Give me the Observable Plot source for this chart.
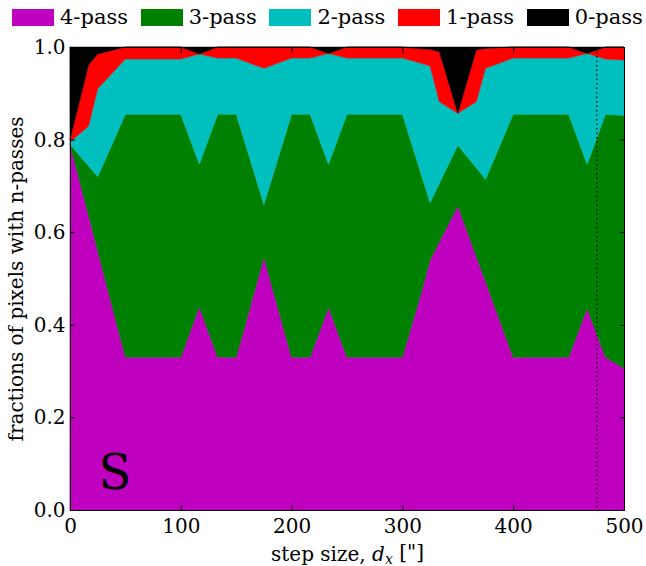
<!DOCTYPE html>
<html><head><meta charset="utf-8">
<script src="https://cdn.jsdelivr.net/npm/d3@7"></script>
<script src="https://cdn.jsdelivr.net/npm/@observablehq/plot@0.6"></script>
<style>
body{margin:0;background:#fff;font-family:"DejaVu Serif",serif;}
#legend{position:relative;height:34px;width:646px;}
.item{position:absolute;top:0;height:34px;display:flex;align-items:center;font-size:21px;line-height:1;color:#000;}
.sw{width:42px;height:17px;margin-right:6px;}
svg{display:block;}
</style></head><body>
<div id="legend"></div><div id="chart"></div>
<script>
const series = ["4-pass","3-pass","2-pass","1-pass","0-pass"];
const colors = ["#bf00bf","#008000","#00bfbf","#ff0000","#000000"];
const stepSize = [0,16.7,25,50,100,116.7,133.3,150,175,200,216.7,233.3,250,300,316.7,325,333.3,350,366.7,375,400,450,466.7,483.3,500];
const pass4 = [0.79,0.637,0.56,0.33,0.33,0.439,0.33,0.33,0.546,0.33,0.33,0.438,0.33,0.33,0.467,0.54,0.579,0.657,0.548,0.494,0.33,0.33,0.436,0.33,0.306];
const pass3 = [0,0.106,0.16,0.525,0.525,0.308,0.525,0.525,0.114,0.525,0.525,0.309,0.525,0.525,0.26,0.124,0.126,0.131,0.191,0.22,0.525,0.525,0.311,0.525,0.546];
const pass2 = [0.005,0.086,0.19,0.119,0.119,0.238,0.121,0.121,0.294,0.121,0.121,0.239,0.121,0.121,0.238,0.295,0.177,0.069,0.143,0.24,0.121,0.121,0.239,0.119,0.12];
const pass1 = [0.005,0.132,0.075,0.026,0.026,0,0.024,0.024,0.046,0.024,0.024,0,0.024,0.024,0.031,0.036,0.108,0,0.112,0.043,0.024,0.024,0,0.026,0.028];
const pass0 = [0.2,0.039,0.015,0,0,0.015,0,0,0,0,0,0.014,0,0,0.004,0.005,0.01,0.143,0.006,0.003,0,0,0.014,0,0];
const xTicks = [0,100,200,300,400,500];
const yTicks = [0,0.2,0.4,0.6,0.8,1.0];
const markerX = [475];
const panelLabel = ["S"];
const yLabel = "fractions of pixels with n-passes";

const values = [pass4, pass3, pass2, pass1, pass0];
const rows = [];
series.forEach((s, k) => stepSize.forEach((x, i) => rows.push({x, value: values[k][i], series: s})));

// legend
const leg = document.getElementById("legend");
series.forEach((s, i) => {
  const it = document.createElement("div");
  it.className = "item";
  it.style.left = (12 + i * 128.7) + "px";
  const sw = document.createElement("div");
  sw.className = "sw"; sw.style.background = colors[i];
  const t = document.createElement("span"); t.textContent = s;
  it.appendChild(sw); it.appendChild(t); leg.appendChild(it);
});

const blank = () => "";
const svg = Plot.plot({
  width: 646, height: 532,
  marginTop: 13, marginBottom: 56, marginLeft: 70, marginRight: 22,
  style: {fontFamily: "DejaVu Serif", fontSize: "20px", background: "white", color: "black"},
  x: {domain: [0, 500]},
  y: {domain: [0, 1]},
  color: {domain: series, range: colors},
  marks: [
    Plot.areaY(rows, {x: "x", y: "value", fill: "series", stroke: "series", strokeWidth: 0.5, order: series}),
    Plot.ruleX(markerX, {stroke: "black", strokeDasharray: "1.5,3", strokeWidth: 1.2}),
    Plot.text(panelLabel, {text: d => d, frameAnchor: "bottom-left", textAnchor: "start", lineAnchor: "bottom", dx: 28, dy: -22, fontSize: 48, fontFamily: "DejaVu Serif", fill: "black"}),
    Plot.frame({stroke: "black", strokeWidth: 1}),
    Plot.axisX(xTicks, {anchor: "bottom", tickSize: 0, tickPadding: 8, fontSize: 20, label: "step size, dx [\"]", labelAnchor: "center", labelOffset: 50, labelArrow: "none"}),
    Plot.axisX(xTicks, {anchor: "bottom", tickSize: 5, dy: -5, tickFormat: blank, label: null}),
    Plot.axisX(xTicks, {anchor: "top", tickSize: 5, dy: 5, tickFormat: blank, label: null}),
    Plot.axisY(yTicks, {anchor: "left", tickSize: 0, tickPadding: 5, tickFormat: d3.format(".1f"), fontSize: 20, label: yLabel, labelAnchor: "center", labelOffset: 62, labelArrow: "none"}),
    Plot.axisY(yTicks, {anchor: "left", tickSize: 5, dx: 5, tickFormat: blank, label: null}),
    Plot.axisY(yTicks, {anchor: "right", tickSize: 5, dx: -5, tickFormat: blank, label: null})
  ]
});
document.getElementById("chart").appendChild(svg);

// y label without arrow
d3.select(svg).select('g[aria-label="y-axis label"] text').text(yLabel);
// italic d with subscript x in the x-axis label
const lab = d3.select(svg).select('g[aria-label="x-axis label"] text');
if (!lab.empty()) {
  lab.text(null);
  lab.append("tspan").text("step size, ");
  lab.append("tspan").attr("font-style", "italic").text("d");
  lab.append("tspan").attr("font-size", "0.7em").attr("font-style", "italic").attr("dy", "0.25em").text("x");
  lab.append("tspan").attr("dy", "-0.25em").text(" [\"]");
}
</script>
</body></html>
